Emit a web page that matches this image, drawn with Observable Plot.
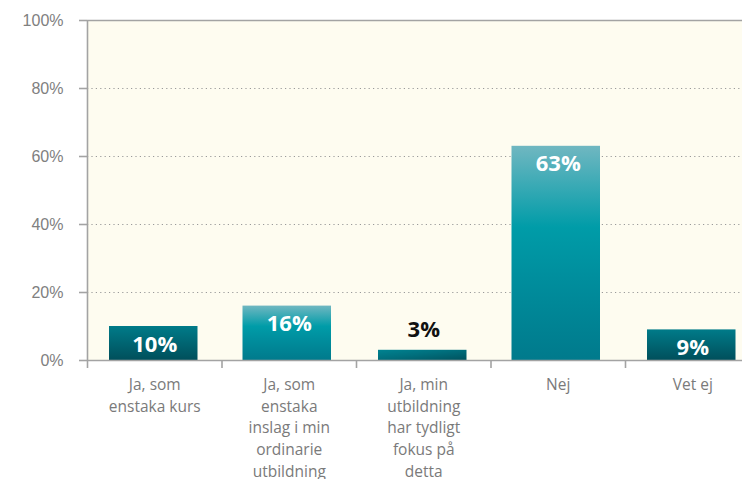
<!DOCTYPE html>
<html>
<head>
<meta charset="utf-8">
<script src="https://cdn.jsdelivr.net/npm/d3@7"></script>
<script src="https://cdn.jsdelivr.net/npm/@observablehq/plot@0.6"></script>
<style>
  html, body { margin: 0; padding: 0; background: #ffffff; }
  #chart svg { display: block; }
</style>
</head>
<body>
<div id="chart"></div>
<script>
const categories = [
  "Ja, som\nenstaka kurs",
  "Ja, som\nenstaka\ninslag i min\nordinarie\nutbildning",
  "Ja, min\nutbildning\nhar tydligt\nfokus på\ndetta",
  "Nej",
  "Vet ej"
];
const values = [10, 16, 3, 63, 9];
const shades = ["dark", "light", "dark", "light", "dark"];
const yTicks = [0, 20, 40, 60, 80, 100];
const gridTicks = [20, 40, 60, 80];
const boundaryTicks = [0, 1, 2, 3, 4, 5];

const data = categories.map((c, i) => ({ i, label: c, value: values[i], shade: shades[i] }));
const inside = data.filter(d => d.value >= 5);
const outside = data.filter(d => d.value < 5);

const gray = "#a3a3a3";

const svg = Plot.plot({
  width: 742,
  height: 479,
  marginLeft: 87,
  marginTop: 20,
  marginBottom: 119,
  marginRight: -18,
  style: { fontFamily: "'Open Sans', sans-serif", background: "#ffffff" },
  x: { domain: [0, 5], range: [87, 759.5], axis: null },
  y: { domain: [0, 100], axis: null },
  marks: [
    Plot.frame({ fill: "#fefcf0", stroke: null }),
    Plot.ruleY(gridTicks, { stroke: "#9a9a9a", strokeDasharray: "1.2,3.2", strokeWidth: 1.2 }),
    Plot.rectY(data.filter(d => d.shade === "light"), { x1: "i", x2: d => d.i + 1, y: "value", insetLeft: 21, insetRight: 25, fill: "url(#gLight)" }),
    Plot.rectY(data.filter(d => d.shade === "dark" && d.value >= 5), { x1: "i", x2: d => d.i + 1, y: "value", insetLeft: 22, insetRight: 24, fill: "url(#gDark)" }),
    Plot.rectY(data.filter(d => d.shade === "dark" && d.value < 5), { x1: "i", x2: d => d.i + 1, y: "value", insetLeft: 22, insetRight: 24, fill: "url(#gDiag)" }),
    Plot.ruleY([0, 100], { stroke: gray, strokeWidth: 1.6 }),
    Plot.ruleX([0], { y1: 0, y2: 100, stroke: gray, strokeWidth: 1.6 }),
    Plot.axisY({ ticks: yTicks, tickSize: 8, tickPadding: 16, tickFormat: d => d + "%", stroke: gray, strokeWidth: 1.6, fill: "#808080", fontSize: 16, fontFamily: "'Liberation Sans', Arial, sans-serif", label: null }),
    Plot.axisX({ ticks: boundaryTicks, tickSize: 8, tickFormat: () => "", stroke: gray, strokeWidth: 1.6, label: null }),
    Plot.text(data, { x: d => d.i + 0.5, y: 0, text: "label", lineAnchor: "top", dy: 14, lineHeight: 1.4, fontSize: 15.5, fill: "#7a7a7a" }),
    Plot.text(inside, { x: d => d.i + 0.5, y: "value", text: d => d.value + "%", lineAnchor: "middle", dy: 18, fontSize: 22, fontWeight: "bold", fill: "#ffffff" }),
    Plot.text(outside, { x: d => d.i + 0.5, y: "value", text: d => d.value + "%", lineAnchor: "middle", dy: -20, fontSize: 22, fontWeight: "bold", fill: "#111111" })
  ]
});

const NS = "http://www.w3.org/2000/svg";
const defs = document.createElementNS(NS, "defs");
function grad(id, x2, y2, stops) {
  const g = document.createElementNS(NS, "linearGradient");
  g.setAttribute("id", id);
  g.setAttribute("x1", "0"); g.setAttribute("y1", "0");
  g.setAttribute("x2", x2); g.setAttribute("y2", y2);
  for (const [o, c] of stops) {
    const s = document.createElementNS(NS, "stop");
    s.setAttribute("offset", o);
    s.setAttribute("stop-color", c);
    g.appendChild(s);
  }
  defs.appendChild(g);
}
grad("gLight", "0", "1", [["0", "#70b7c1"], ["0.38", "#009ca8"], ["0.6", "#008f9e"], ["1", "#007a8c"]]);
grad("gDark", "0", "1", [["0", "#007b89"], ["1", "#004f5b"]]);
grad("gDiag", "1", "1", [["0", "#008391"], ["0.45", "#006f7d"], ["1", "#00525e"]]);
svg.insertBefore(defs, svg.firstChild);

document.getElementById("chart").appendChild(svg);
</script>
</body>
</html>
